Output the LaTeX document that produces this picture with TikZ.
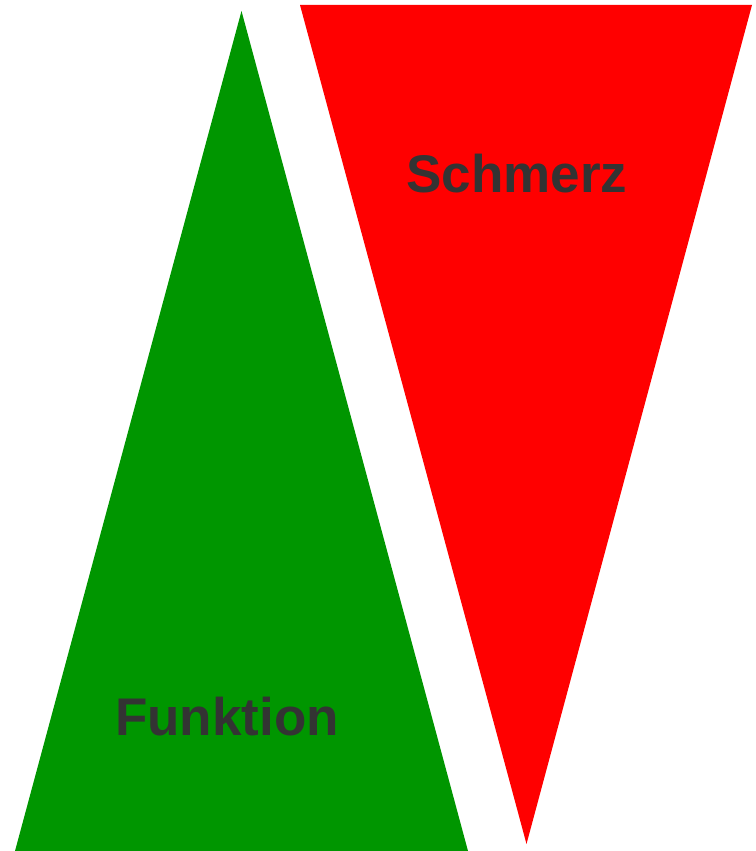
\documentclass[tikz,border=0pt]{standalone}
\usepackage{fontspec}
\setmainfont{Liberation Sans}
\usetikzlibrary{positioning}
\definecolor{funkgreen}{RGB}{0,150,0}
\definecolor{schmerzred}{RGB}{255,0,0}
\definecolor{labelgray}{RGB}{51,51,51}
\tikzset{
  label text/.style={text=labelgray, font=\bfseries\fontsize{53}{60}\selectfont, anchor=base, inner sep=0pt}
}

\begin{document}
\begin{tikzpicture}[x=1pt, y=-1pt]
            \useasboundingbox (0,0) rectangle (755,851);

            % Funktion triangle
            \fill[funkgreen] (241.5,11) -- (468,851) -- (15,851) -- cycle;
            \node[label text] (funktion) at (227,735) {Funktion};

            % Schmerz triangle
            \fill[schmerzred] (300,5) -- (752,5) -- (526.5,844) -- cycle;
            \node[label text] (schmerz) at (517,192) {Schmerz};

        \end{tikzpicture}
\end{document}
